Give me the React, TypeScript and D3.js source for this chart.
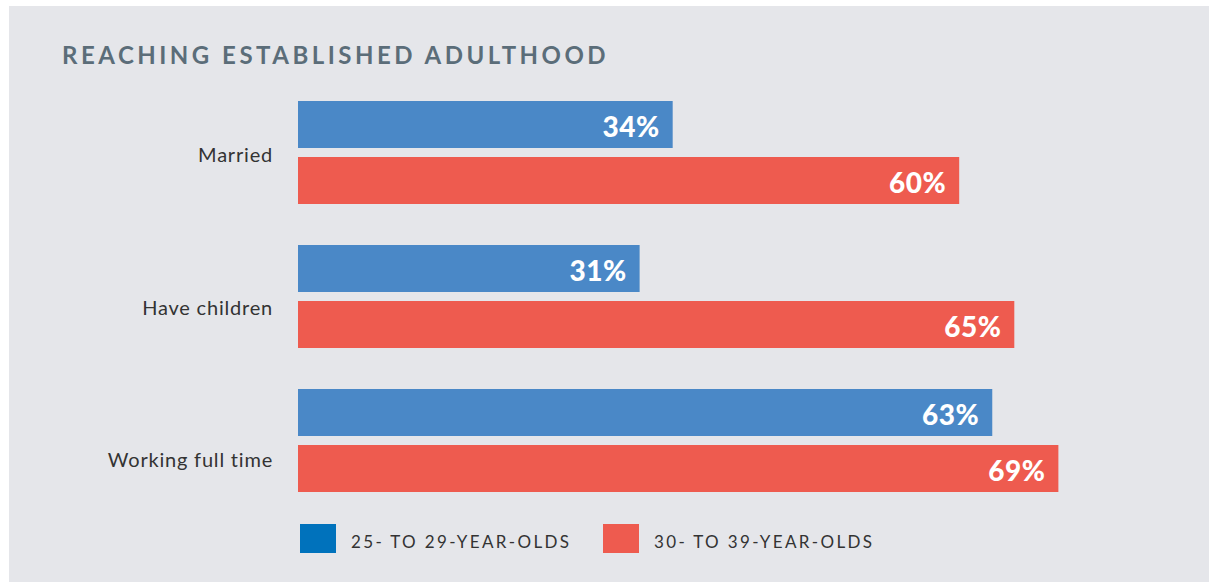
import React from "react";
import * as d3 from "d3";

const categories = ["Married", "Have children", "Working full time"];
const seriesNames = ["25- TO 29-YEAR-OLDS", "30- TO 39-YEAR-OLDS"];
const age25to29 = [34, 31, 63];
const age30to39 = [60, 65, 69];
const title = "REACHING ESTABLISHED ADULTHOOD";

const barColors = ["#4a88c7", "#ee5b4f"];
const legendColors = ["#0072bc", "#ee5b4f"];

const W = 1214;
const H = 582;

export default function App() {
  const x = d3.scaleLinear().domain([0, 100]).range([298, 298 + 1102]);
  const y = d3
    .scaleBand<string>()
    .domain(categories)
    .range([101, 492])
    .paddingInner(41 / 144)
    .paddingOuter(0);
  const sub = d3
    .scaleBand<string>()
    .domain(seriesNames)
    .range([0, y.bandwidth()])
    .paddingInner(9 / 56)
    .paddingOuter(0);
  const labelY = d3.scalePoint<string>().domain(categories).range([162, 467]);

  const values = [age25to29, age30to39];
  const font = "Lato, 'Open Sans', sans-serif";

  const legendX = [300, 603];

  return (
    <svg
      width={W}
      height={H}
      style={{ position: "absolute", left: 0, top: 0, display: "block" }}
    >
      <rect x={9} y={6} width={1200} height={H - 6} fill="#e5e6ea" />
      <text
        x={62}
        y={64}
        fontFamily={font}
        fontWeight={700}
        fontSize={24}
        letterSpacing={3.5}
        fill="#5b6d79"
      >
        {title}
      </text>
      {categories.map((c) => (
        <text
          key={c}
          x={273}
          y={labelY(c)}
          textAnchor="end"
          fontFamily={font}
          fontSize={20}
          letterSpacing={0.8}
          fill="#333333"
        >
          {c}
        </text>
      ))}
      {categories.map((c, i) =>
        seriesNames.map((s, j) => {
          const v = values[j][i];
          const by = (y(c) as number) + (sub(s) as number);
          return (
            <g key={c + s}>
              <rect
                x={x(0)}
                y={by}
                width={x(v) - x(0)}
                height={sub.bandwidth()}
                fill={barColors[j]}
              />
              <text
                x={x(v) - 13}
                y={by + sub.bandwidth() / 2 + 12}
                textAnchor="end"
                fontFamily={font}
                fontWeight={900}
                fontSize={28}
                letterSpacing={0.5}
                fill="#ffffff"
              >
                {v}%
              </text>
            </g>
          );
        })
      )}
      {seriesNames.map((s, j) => (
        <g key={s}>
          <rect x={legendX[j]} y={524} width={36} height={29} fill={legendColors[j]} />
          <text
            x={legendX[j] + 51}
            y={548}
            fontFamily={font}
            fontSize={17}
            letterSpacing={2.35}
            fill="#333333"
          >
            {s}
          </text>
        </g>
      ))}
    </svg>
  );
}
